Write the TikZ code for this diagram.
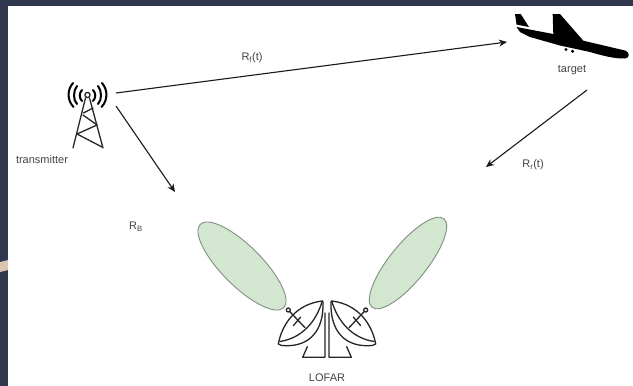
\documentclass[tikz,border=0pt]{standalone}
\usepackage{fontspec}
\setmainfont{Liberation Sans}
\usetikzlibrary{arrows.meta}
\definecolor{frame}{HTML}{2F384C}
\definecolor{beam}{HTML}{D3E6D0}
\definecolor{beamline}{HTML}{7F8F80}
\definecolor{txt}{HTML}{444444}
\definecolor{streak}{RGB}{220,197,176}
\tikzset{
  lbl/.style={font=\fontsize{11}{13}\selectfont,text=txt,inner sep=0pt},
  link/.style={draw=black!90,line width=1.1pt,-{Stealth[length=8pt,width=7pt]}},
  beamshape/.style={draw=beamline,fill=beam,line width=0.9pt},
  icon/.style={draw=black!85,line width=1.3pt,line join=round,line cap=round},
  wave/.style={draw=black,line width=2pt,line cap=round},
}
\begin{document}
\begin{tikzpicture}[x=1pt,y=-1pt]
\useasboundingbox (0,0) rectangle (633,386);
\fill[frame] (0,0) rectangle (633,386);
\fill[white] (8,6) rectangle (633,386);
\fill[streak] (0,262) -- (8,260) -- (8,270) -- (0,272) -- cycle;
% tower
\coordinate (txa) at (116,93);
\coordinate (txb) at (116,106);
\begin{scope}[icon]
\draw (85.5,98) -- (73,148);
\draw (89.5,98) -- (103,148);
\draw (83.5,113) -- (93,108);
\draw (83,115) -- (97,125);
\draw (97,125) -- (77,134);
\draw (77,134) -- (102,147);
\draw (87.5,95) circle (2.6);
\end{scope}
\begin{scope}[wave]
\draw (82,90) .. controls (79,93) and (79,98) .. (82,101);
\draw (93,90) .. controls (96,93) and (96,98) .. (93,101);
\draw (77,86) .. controls (73,91) and (73,100) .. (77,104);
\draw (98,86) .. controls (102,91) and (102,100) .. (98,104);
\draw (73,83) .. controls (67,90) and (67,100) .. (73.5,107);
\draw (102,83) .. controls (108,90) and (108,100) .. (101.5,107);
\end{scope}
\node[lbl] (tx) at (42,160) {transmitter};
% plane
\fill[black] (515,14) -- (520.7,14) -- (529,27) -- (516.5,24.5) -- cycle;
\fill[black] (516.5,27) -- (553.3,34) -- (552.7,14) -- (560,14) -- (583.3,40.7) -- (625,50.5)
  .. controls (630,52) and (630,58) .. (625,58.5)
  .. controls (615,59) and (600,55) .. (590,52) -- (560,45.5) -- (530,37) -- (520,32) -- cycle;
\fill[black] (566,49.5) circle (1.7);
\fill[black] (572.5,51.3) circle (1.7);
\coordinate (tga) at (507,42);
\coordinate (tgb) at (587,90);
\node[lbl] (tg) at (572,70) {target};
% beams
\draw[beamshape,rotate around={-45:(242,266)}] (242,266) ellipse (59 and 20);
\draw[beamshape,rotate around={51:(408,263)}] (408,263) ellipse (57 and 18.6);
% dishes
\foreach \m/\o in {1/0,-1/654}{
\begin{scope}[icon,xshift=\o,xscale=\m]
\draw (307.3,346.7) -- (302.7,357.3) -- (325,357.3) -- (325,313);
\draw[fill=white] (322.3,301) .. controls (296,304) and (282,324) .. (278.3,344) -- (281.7,345.5)
  .. controls (310,348) and (324,330) .. (323,302) -- cycle;
\draw (322.3,301) .. controls (316,322) and (302,338) .. (280,341.5);
\draw (305,327.7) -- (288.3,310);
\draw (293.3,325.7) -- (300.7,317);
\draw[fill=white] (288.3,310) circle (2);
\end{scope}
}
\coordinate (dish) at (175,192);
\coordinate (rr) at (486,167);
% links
\draw[link] (txa) -- (tga);
\draw[link] (txb) -- (dish);
\draw[link] (tgb) -- (rr);
% labels
\node[lbl] (rf) at (252,58) {R\textsubscript{f}(t)};
\node[lbl] (rrl) at (533,165) {R\textsubscript{r}(t)};
\node[lbl] (rb) at (136,227) {R\textsubscript{B}};
\node[lbl] (lofar) at (327,378) {LOFAR};
\end{tikzpicture}
\end{document}
